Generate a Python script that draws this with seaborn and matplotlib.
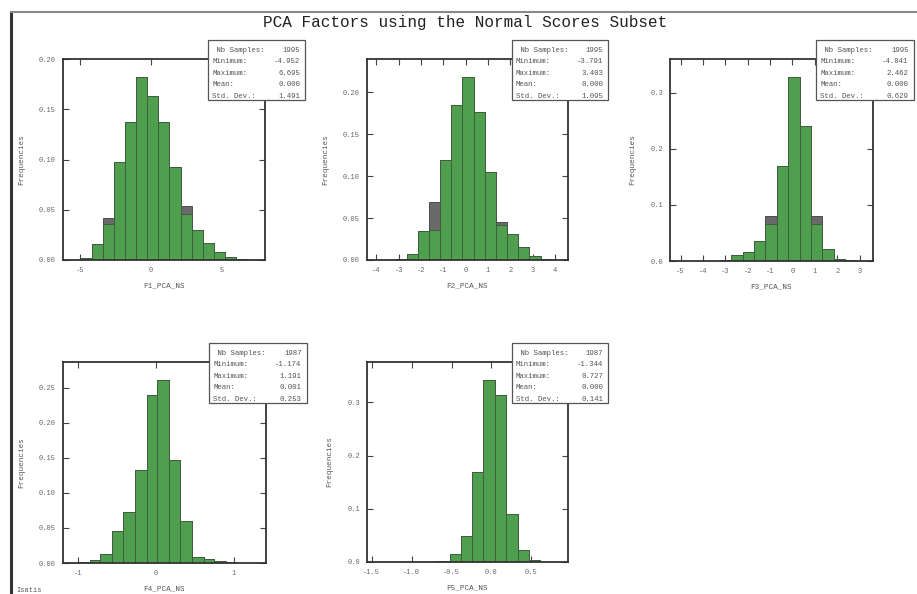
import numpy as np
import matplotlib
matplotlib.use('Agg')
import matplotlib.pyplot as plt
import seaborn as sns
from matplotlib.patches import Rectangle

# PCA factor histograms (relative frequencies)
f1_edges = [-5.00, -4.21, -3.42, -2.63, -1.84, -1.05, -0.26, 0.53, 1.32, 2.11, 2.90, 3.69, 4.48, 5.27, 6.06, 6.85]
f1_all = [0.002, 0.016, 0.042, 0.098, 0.137, 0.182, 0.163, 0.137, 0.093, 0.054, 0.030, 0.017, 0.008, 0.003, 0.001]
f1_sub = [0.002, 0.016, 0.036, 0.098, 0.137, 0.182, 0.163, 0.137, 0.093, 0.046, 0.030, 0.017, 0.008, 0.003, 0.001]

f2_edges = [-3.15, -2.65, -2.15, -1.65, -1.15, -0.65, -0.15, 0.35, 0.85, 1.35, 1.85, 2.35, 2.85, 3.35, 3.85]
f2_all = [0.001, 0.007, 0.035, 0.069, 0.119, 0.185, 0.219, 0.177, 0.105, 0.045, 0.031, 0.015, 0.005, 0.001]
f2_sub = [0.001, 0.007, 0.035, 0.036, 0.119, 0.185, 0.219, 0.177, 0.105, 0.042, 0.031, 0.015, 0.005, 0.001]

f3_edges = [-3.24, -2.73, -2.22, -1.72, -1.21, -0.70, -0.19, 0.32, 0.82, 1.33, 1.84, 2.35, 2.86]
f3_all = [0.001, 0.010, 0.016, 0.035, 0.081, 0.169, 0.328, 0.240, 0.081, 0.021, 0.003, 0.001]
f3_sub = [0.001, 0.010, 0.016, 0.035, 0.066, 0.169, 0.328, 0.240, 0.066, 0.021, 0.003, 0.001]

f4_edges = [-1.00, -0.85, -0.71, -0.56, -0.42, -0.27, -0.12, 0.02, 0.17, 0.31, 0.46, 0.61, 0.75, 0.90, 1.04]
f4_all = [0.001, 0.004, 0.013, 0.045, 0.073, 0.133, 0.240, 0.261, 0.147, 0.060, 0.008, 0.006, 0.003, 0.001]
f4_sub = f4_all

f5_edges = [-0.67, -0.52, -0.38, -0.24, -0.10, 0.04, 0.18, 0.33, 0.47, 0.61]
f5_all = [0.002, 0.015, 0.049, 0.170, 0.343, 0.314, 0.090, 0.022, 0.003]
f5_sub = f5_all

names = ['F1_PCA_NS', 'F2_PCA_NS', 'F3_PCA_NS', 'F4_PCA_NS', 'F5_PCA_NS']
stats = [
    ['1995', '-4.952', '6.695', '0.000', '1.491'],
    ['1995', '-3.791', '3.403', '0.000', '1.095'],
    ['1995', '-4.841', '2.462', '0.000', '0.629'],
    ['1987', '-1.174', '1.191', '0.001', '0.253'],
    ['1987', '-1.344', '0.727', '0.000', '0.141'],
]
stat_labels = [' Nb Samples:', 'Minimum:', 'Maximum:', 'Mean:', 'Std. Dev.:']

sns.set_style('ticks')
plt.rcParams['font.family'] = ['Liberation Mono', 'DejaVu Sans Mono']

W, H = 917, 594
fig = plt.figure(figsize=(W / 100, H / 100), dpi=100)

# axes boxes in pixels: left, top, right, bottom
boxes = [(63, 59, 265, 260), (367, 59, 568, 260), (670, 59, 873, 261),
         (63, 362, 266, 563), (367, 362, 568, 562)]
panels = [(f1_edges, f1_all, f1_sub), (f2_edges, f2_all, f2_sub), (f3_edges, f3_all, f3_sub),
          (f4_edges, f4_all, f4_sub), (f5_edges, f5_all, f5_sub)]
xlims = [(-6.24, 8.1), (-4.42, 4.58), (-5.47, 3.6), (-1.19, 1.41), (-1.56, 0.96)]
ylims = [(0, 0.2), (0, 0.24), (0, 0.36), (0, 0.287), (0, 0.376)]
xticks = [[-5, 0, 5], [-4, -3, -2, -1, 0, 1, 2, 3, 4], [-5, -4, -3, -2, -1, 0, 1, 2, 3],
          [-1, 0, 1], [-1.5, -1.0, -0.5, 0.0, 0.5]]
yticks = [[0, 0.05, 0.10, 0.15, 0.20], [0, 0.05, 0.10, 0.15, 0.20], [0, 0.1, 0.2, 0.3],
          [0, 0.05, 0.10, 0.15, 0.20, 0.25], [0, 0.1, 0.2, 0.3]]
yfmt = ['%.2f', '%.2f', '%.1f', '%.2f', '%.1f']
xfmt = ['%d', '%d', '%d', '%d', '%.1f']

for i, (l, t, r, b) in enumerate(boxes):
    ax = fig.add_axes([l / W, 1 - b / H, (r - l) / W, (b - t) / H])
    edges, h_all, h_sub = panels[i]
    e = np.array(edges)
    mids = (e[:-1] + e[1:]) / 2
    sns.histplot(x=mids, weights=h_all, bins=edges, color='#6a6a6a', edgecolor='#3c3c3c',
                 alpha=1, linewidth=0.6, ax=ax)
    sns.histplot(x=mids, weights=h_sub, bins=edges, color='#4f9f4f', edgecolor='#3c5a3c',
                 alpha=1, linewidth=0.6, ax=ax)
    ax.set_xlim(*xlims[i])
    ax.set_ylim(*ylims[i])
    ax.set_xticks(xticks[i])
    ax.set_xticklabels([xfmt[i] % v for v in xticks[i]])
    ax.set_yticks(yticks[i])
    ax.set_yticklabels([yfmt[i] % v for v in yticks[i]])
    ax.tick_params(direction='in', top=True, right=True, length=4, width=0.8,
                   labelsize=5, labelcolor='#666666', color='#444444', pad=5)
    for s in ax.spines.values():
        s.set_linewidth(1.3)
        s.set_color('#333333')
    ax.set_xlabel(names[i], fontsize=5.5, color='#555555', labelpad=6)
    ax.set_ylabel('Frequencies', fontsize=5.5, color='#555555', labelpad=10)

    # statistics box
    bx0, bw, by1, bh = 0.72, 0.48, 1.095, 0.30
    ax.add_patch(Rectangle((bx0, by1 - bh), bw, bh, transform=ax.transAxes, clip_on=False,
                           facecolor='white', edgecolor='#555555', linewidth=0.9, zorder=5))
    for k, (lab, val) in enumerate(zip(stat_labels, stats[i])):
        yy = by1 - 0.035 - k * 0.057
        ax.text(bx0 + 0.02, yy, lab, transform=ax.transAxes, fontsize=5.3, color='#555555',
                va='top', ha='left', zorder=6)
        ax.text(bx0 + bw - 0.025, yy, val, transform=ax.transAxes, fontsize=5.3, color='#555555',
                va='top', ha='right', zorder=6)

fig.text(465 / W, 1 - 22 / H, 'PCA Factors using the Normal Scores Subset', ha='center',
         va='center', fontsize=11.5, color='#222222')
fig.text(16 / W, 1 - 591 / H, 'Isatis', fontsize=5, color='#555555', va='center')

# page frame
fig.add_artist(plt.Line2D([11 / W, 11 / W], [0, 1 - 12 / H], transform=fig.transFigure,
                          color='#333333', linewidth=2.2))
fig.add_artist(plt.Line2D([11 / W, 1], [1 - 12 / H, 1 - 12 / H], transform=fig.transFigure,
                          color='#888888', linewidth=1.5))

fig.savefig('out.png', dpi=100)
